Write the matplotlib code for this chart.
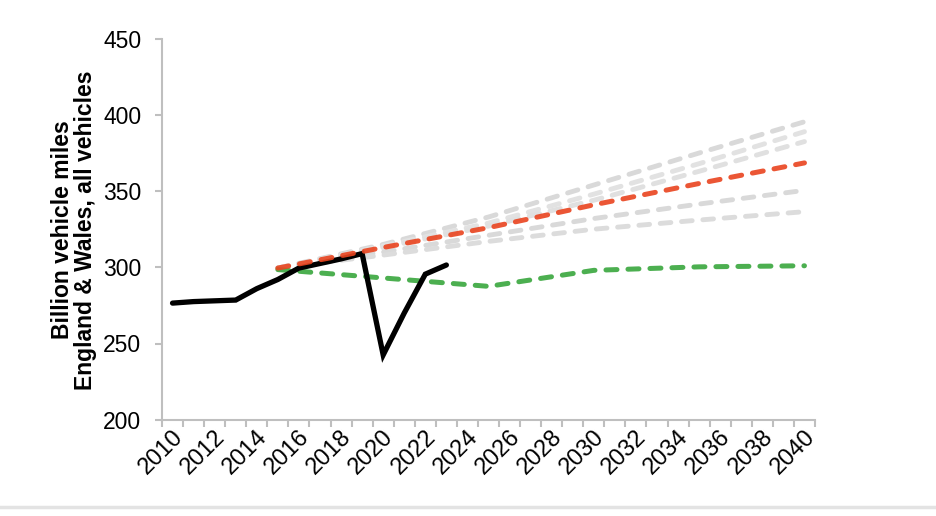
import numpy as np
import matplotlib.pyplot as plt
import matplotlib.transforms as mtransforms
from matplotlib.lines import Line2D

plt.rcParams['font.family'] = ['Liberation Sans', 'DejaVu Sans']

# observed traffic, billion vehicle miles
years = np.arange(2010, 2024)
actual = [276.5, 277.5, 278, 278.5, 286, 292, 299.5, 302.5, 305.5, 309, 242.5, 270, 295.5, 301.5]

# forecast scenarios (every 5 years)
proj_years = [2015, 2020, 2025, 2030, 2035, 2040]
grey_a = [299.5, 315, 333, 354, 375, 395.5]
grey_b = [299.5, 314, 329, 348, 368, 389]
grey_c = [299.5, 313, 327, 344, 363, 382.5]
grey_d = [299.5, 310, 321, 332, 341.5, 350.5]
grey_e = [299.5, 308, 317, 325, 331, 336.5]
reference = [299.5, 313, 326, 341, 355, 368.5]
low = [298.5, 293, 287.5, 298, 300.3, 301]

fig = plt.figure(figsize=(9.36, 5.16), dpi=100)
ax = fig.add_axes([162/936, 1-419.7/516, 653/936, 381/516])

dash = (2.2, 2.2)
for s, c in zip([grey_a, grey_b, grey_c, grey_d, grey_e],
                ['#d9d9d9', '#e2e2e2', '#e0e0e0', '#d9d9d9', '#dcdcdc']):
    ax.plot(proj_years, s, color=c, lw=3.5, dashes=dash,
            dash_capstyle='round', zorder=2)
ax.plot(proj_years, low, color='#4caf50', lw=3.6, dashes=dash,
        dash_capstyle='round', zorder=3)
ax.plot(years, actual, color='black', lw=3.8, solid_capstyle='round',
        solid_joinstyle='miter', zorder=4)
ax.plot(proj_years, reference, color='#e9441f', lw=3.6, dashes=dash,
        dash_capstyle='round', zorder=5, alpha=0.9)

ax.set_xlim(2009.5, 2040.5)
ax.set_ylim(200, 450)
ax.set_yticks(np.arange(200, 451, 50))
ax.set_xticks(np.arange(2010, 2041, 2))
ax.set_xticks(np.arange(2009.5, 2041, 1), minor=True)
ax.tick_params(axis='x', which='major', length=0, pad=10)
ax.tick_params(axis='x', which='minor', length=5, color='#bfbfbf', width=1.5)
ax.tick_params(axis='y', length=5, color='#bfbfbf', width=1.5, pad=10,
               labelsize=16.5)
shift = mtransforms.ScaledTranslation(7/100, 0, fig.dpi_scale_trans)
for lab in ax.get_xticklabels():
    lab.set_rotation(45)
    lab.set_ha('right')
    lab.set_va('center')
    lab.set_rotation_mode('anchor')
    lab.set_fontsize(17)
    lab.set_transform(lab.get_transform() + shift)

for side in ['top', 'right']:
    ax.spines[side].set_visible(False)
for side in ['left', 'bottom']:
    ax.spines[side].set_color('#bfbfbf')
    ax.spines[side].set_linewidth(1.5)

fig.text(74/936, 1-230/516, 'Billion vehicle miles\nEngland & Wales, all vehicles',
         rotation=90, ha='center', va='center', fontsize=16.5,
         fontweight='bold', linespacing=1.05, multialignment='center')

# chart area edge at the bottom
fig.add_artist(Line2D([0, 1], [1-507/516, 1-507/516], color='#e3e3e3', lw=2.5,
                      transform=fig.transFigure))

fig.savefig('out.png', dpi=100)
